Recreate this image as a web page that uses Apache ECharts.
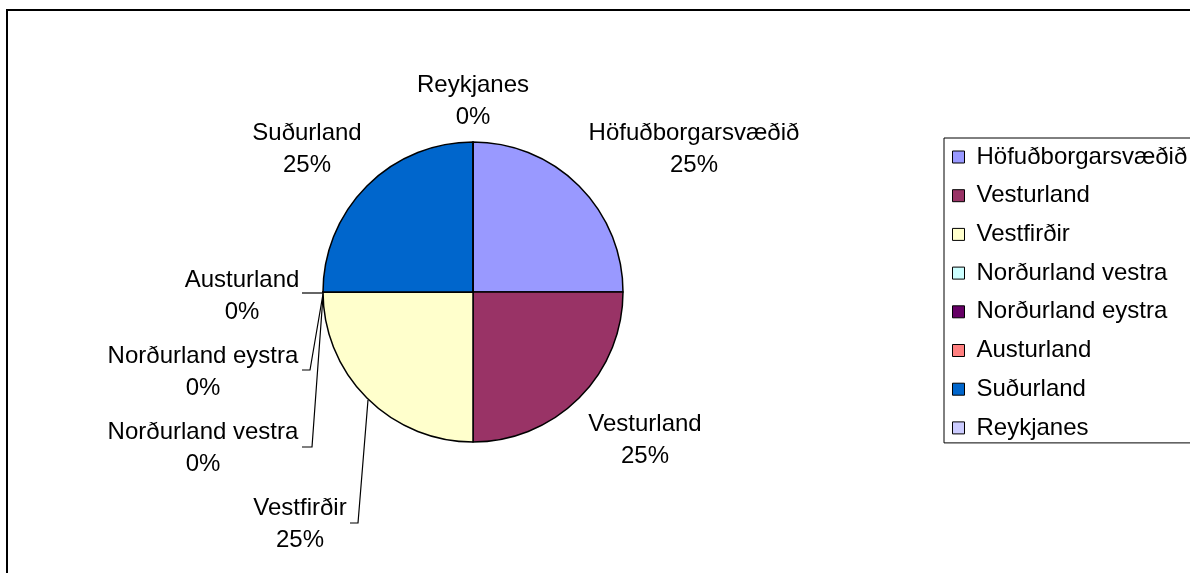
<!DOCTYPE html>
<html>
<head>
<meta charset="utf-8">
<script src="https://cdn.jsdelivr.net/npm/echarts@6/dist/echarts.min.js"></script>
<style>
html,body{margin:0;padding:0;background:#fff;}
#chart{width:1190px;height:573px;}
</style>
</head>
<body>
<div id="chart"></div>
<script>
// ---- data ----
const categories = ['Höfuðborgarsvæðið','Vesturland','Vestfirðir','Norðurland vestra','Norðurland eystra','Austurland','Suðurland','Reykjanes'];
const values = [25, 25, 25, 0, 0, 0, 25, 0];
const colors = ['#9999FF','#993366','#FFFFCC','#CCFFFF','#660066','#FF8080','#0066CC','#CCCCFF'];

// ---- layout (label placement, relative to pie centre) ----
const CX = 473, CY = 292, R = 150;
const labelOffsets = [[221,-143],[172,148],[-173,232],[-270,156],[-270,80],[-231,4],[-166,-143],[0,-191]];
const leaderOffsets = [null, null,
  [[-105,108],[-115,231],[-123,231]],
  [[-150,4],[-161,155],[-171,155]],
  [[-150,2],[-163,78],[-171,78]],
  [[-150,1],[-161,1],[-171,1]],
  null, null];

const chart = echarts.init(document.getElementById('chart'), null, {renderer:'canvas'});
const font = '"Liberation Sans", Arial, sans-serif';

chart.setOption({
  animation: false,
  backgroundColor: '#fff',
  graphic: [{
    type: 'rect', silent: true,
    shape: {x: 7, y: 10, width: 1300, height: 700},
    style: {fill: 'none', stroke: '#000', lineWidth: 2}
  }],
  legend: {
    orient: 'vertical',
    left: 944, top: 138,
    padding: [7, 40, 3, 8],
    borderColor: '#000', borderWidth: 1,
    itemWidth: 12, itemHeight: 12,
    itemGap: 14.7,
    icon: 'rect',
    itemStyle: {borderColor: '#000', borderWidth: 1},
    textStyle: {fontFamily: font, fontSize: 24, color: '#000', lineHeight: 24, padding: [0,0,0,7]},
    data: categories
  },
  series: [{
    type: 'pie',
    center: [CX, CY],
    radius: R,
    startAngle: 90,
    clockwise: true,
    avoidLabelOverlap: false,
    minShowLabelAngle: 0,
    itemStyle: {borderColor: '#000', borderWidth: 1.5},
    emphasis: {disabled: true},
    label: {
      show: true,
      position: 'outside',
      fontFamily: font, fontSize: 24, color: '#000', lineHeight: 32,
      align: 'center',
      formatter: p => p.name + '\n' + Math.round(p.percent) + '%'
    },
    labelLine: {show: true, lineStyle: {color: '#000', width: 1.2}},
    labelLayout: function (p) {
      const i = p.dataIndex;
      const o = labelOffsets[i];
      const res = {x: CX + o[0], y: CY + o[1], align: 'center', verticalAlign: 'middle'};
      const lo = leaderOffsets[i];
      if (lo) {
        res.labelLinePoints = lo.map(q => [CX + q[0], CY + q[1]]);
      } else {
        res.labelLinePoints = [[0,0],[0,0],[0,0]];
      }
      return res;
    },
    data: categories.map((c, i) => ({
      name: c, value: values[i],
      itemStyle: {color: colors[i]},
      labelLine: {show: !!leaderOffsets[i]}
    }))
  }]
});
</script>
</body>
</html>
